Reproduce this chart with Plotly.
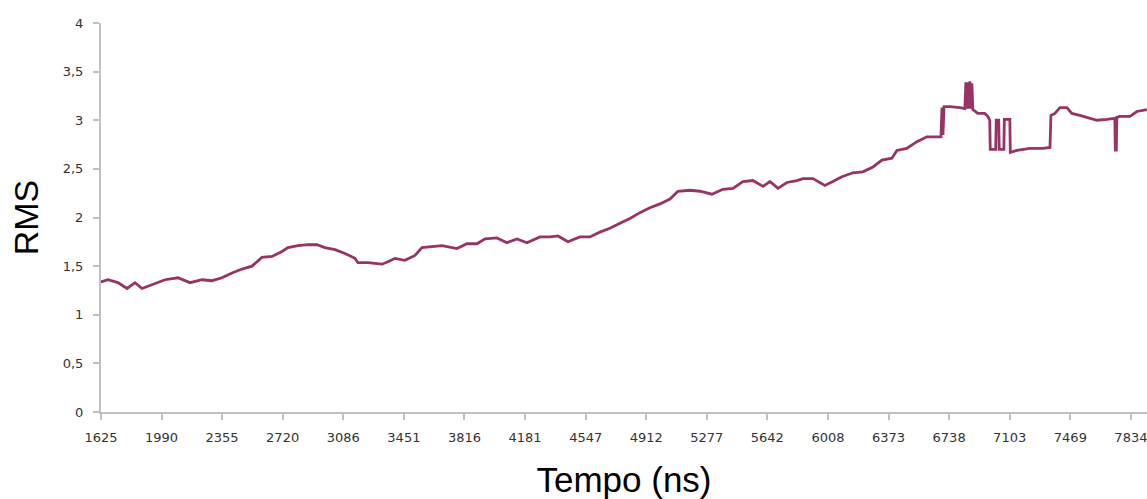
import plotly.graph_objects as go

# Time (ns) and RMS values
tempo_ns = [1625, 1631, 1667, 1727, 1782, 1830, 1872, 1932, 2011, 2089, 2161, 2234, 2294, 2354,
            2415, 2475, 2535, 2595, 2656, 2716, 2752, 2813, 2873, 2927, 2975, 3036, 3096, 3156,
            3174, 3234, 3319, 3355, 3397, 3457, 3518, 3560, 3620, 3681, 3771, 3831, 3892, 3940,
            4012, 4072, 4133, 4193, 4271, 4332, 4380, 4440, 4512, 4573, 4633, 4693, 4754, 4814,
            4874, 4934, 4995, 5055, 5103, 5176, 5236, 5308, 5374, 5435, 5495, 5555, 5616, 5658,
            5706, 5760, 5820, 5857, 5917, 5989, 6037, 6092, 6158, 6218, 6279, 6333, 6393, 6423,
            6483, 6544, 6604, 6683, 6689, 6695, 6701, 6707, 6743, 6803, 6833, 6839, 6845, 6851,
            6857, 6863, 6869, 6875, 6881, 6911, 6953, 6971, 6983, 6986, 7019, 7022, 7037, 7040,
            7068, 7071, 7104, 7107, 7147, 7225, 7303, 7346, 7352, 7376, 7406, 7448, 7478, 7526,
            7568, 7629, 7689, 7725, 7737, 7740, 7743, 7746, 7749, 7767, 7828, 7870, 7930]
rms = [1.34, 1.34, 1.36, 1.33, 1.27, 1.33, 1.27, 1.31, 1.36, 1.38, 1.33, 1.36, 1.35, 1.38,
       1.43, 1.47, 1.50, 1.59, 1.60, 1.65, 1.69, 1.71, 1.72, 1.72, 1.69, 1.67, 1.63, 1.58,
       1.535, 1.535, 1.52, 1.545, 1.58, 1.56, 1.61, 1.69, 1.70, 1.71, 1.68, 1.73, 1.73, 1.78,
       1.79, 1.74, 1.78, 1.74, 1.80, 1.80, 1.81, 1.75, 1.80, 1.80, 1.85, 1.89, 1.94, 1.99,
       2.05, 2.10, 2.14, 2.19, 2.27, 2.28, 2.27, 2.24, 2.29, 2.30, 2.37, 2.38, 2.32, 2.37,
       2.30, 2.36, 2.38, 2.40, 2.40, 2.33, 2.37, 2.42, 2.46, 2.47, 2.52, 2.59, 2.61, 2.69,
       2.71, 2.78, 2.83, 2.83, 2.83, 3.13, 2.85, 3.14, 3.14, 3.13, 3.12, 3.39, 3.12, 3.39,
       3.12, 3.40, 3.12, 3.38, 3.11, 3.07, 3.07, 3.04, 3.00, 2.70, 2.70, 3.00, 3.00, 2.70,
       2.70, 3.01, 3.01, 2.67, 2.69, 2.71, 2.71, 2.72, 3.05, 3.07, 3.13, 3.13, 3.07, 3.05,
       3.03, 3.00, 3.01, 3.02, 3.02, 2.68, 3.02, 2.68, 3.03, 3.04, 3.04, 3.09, 3.11]

x_ticks = [1625, 1990, 2355, 2720, 3086, 3451, 3816, 4181, 4547, 4912, 5277, 5642,
           6008, 6373, 6738, 7103, 7469, 7834]
x_tick_labels = [str(v) for v in x_ticks]
y_ticks = [0, 0.5, 1, 1.5, 2, 2.5, 3, 3.5, 4]
y_tick_labels = ["0", "0,5", "1", "1,5", "2", "2,5", "3", "3,5", "4"]

fig = go.Figure()
fig.add_trace(go.Scatter(
    x=tempo_ns, y=rms, mode="lines",
    line=dict(color="#993366", width=2.8),
    showlegend=False, hoverinfo="x+y",
))

axis_color = "#c0c0c0"
tick_font = dict(family="DejaVu Sans, Arial, sans-serif", size=13, color="#333333")
title_font = dict(family="Liberation Sans, Arial, sans-serif", size=34, color="#000000")

fig.update_layout(
    width=1147, height=499,
    margin=dict(l=101, r=0, t=23, b=87),
    paper_bgcolor="white", plot_bgcolor="white",
    xaxis=dict(
        range=[1625, 7931], tickmode="array", tickvals=x_ticks, ticktext=x_tick_labels,
        showgrid=False, zeroline=False, showline=True, linecolor=axis_color, linewidth=2,
        ticks="outside", ticklen=6, tickwidth=1.5, tickcolor=axis_color,
        tickfont=tick_font, ticklabelstandoff=6, ticklabeloverflow="allow",
        title=dict(text="Tempo (ns)", font=dict(title_font, size=35), standoff=27),
        automargin=False,
    ),
    yaxis=dict(
        range=[0, 4], tickmode="array", tickvals=y_ticks, ticktext=y_tick_labels,
        showgrid=False, zeroline=False, showline=True, linecolor=axis_color, linewidth=2,
        ticks="outside", ticklen=6, tickwidth=1.5, tickcolor=axis_color,
        tickfont=tick_font, ticklabelstandoff=7,
        title=dict(text="RMS", font=title_font, standoff=14),
        automargin=False,
    ),
)

# remove the default page margin so the figure fills the window exactly
fig.write_html(
    "out.html",
    config={"displayModeBar": False},
    post_script="document.body.style.margin='0';document.body.style.overflow='hidden';",
)
